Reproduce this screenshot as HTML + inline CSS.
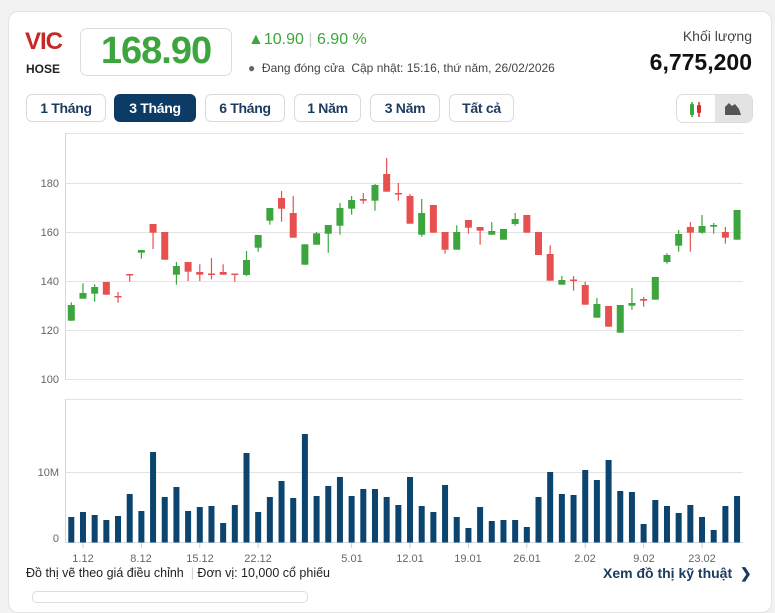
<!DOCTYPE html>
<html><head><meta charset="utf-8">
<style>
body{margin:0;width:775px;height:594px;background:#f2f2f2;font-family:"Liberation Sans",sans-serif;overflow:hidden;position:relative}
.card{position:absolute;left:8px;top:11px;width:762px;height:600px;background:#fff;border:1px solid #e2e2e2;border-radius:10px}
.a{position:absolute;white-space:nowrap}
.btn{position:absolute;top:94px;height:28px;border:1px solid #d6dbe0;border-radius:6px;box-sizing:border-box;font-size:14px;font-weight:bold;color:#1b3b5f;text-align:center;line-height:27px;letter-spacing:-0.3px}
</style></head><body>
<div class="card"></div>
<div class="a" style="left:25px;top:28px;font-size:24px;font-weight:bold;color:#c62828;letter-spacing:-1px">VIC</div>
<div class="a" style="left:26px;top:62px;font-size:12px;font-weight:bold;color:#222">HOSE</div>
<div class="a" style="left:80px;top:28px;width:152px;height:48px;border:1px solid #dcdcdc;border-radius:7px;box-sizing:border-box"></div>
<div class="a" style="left:80px;top:30px;width:152px;text-align:center;font-size:38px;font-weight:bold;color:#3da53d;letter-spacing:-1px">168.90</div>
<div class="a" style="left:248px;top:31px;font-size:16px;color:#3da53d;font-weight:bold">▲<span style="font-weight:normal">10.90</span> <span style="color:#ccc;font-weight:normal">|</span> <span style="font-weight:normal">6.90 %</span></div>
<div class="a" style="left:248px;top:61px;font-size:12px;color:#444"><span style="color:#666">●</span>&nbsp; Đang đóng cửa&nbsp; Cập nhật: 15:16, thứ năm, 26/02/2026</div>
<div class="a" style="right:23px;top:28px;font-size:14px;color:#444">Khối lượng</div>
<div class="a" style="right:23px;top:49px;font-size:23px;font-weight:bold;color:#111">6,775,200</div>
<div class="btn" style="left:26px;width:80px">1 Tháng</div>
<div class="btn" style="left:114px;width:82px;background:#0c3c66;color:#fff;border-color:#0c3c66">3 Tháng</div>
<div class="btn" style="left:205px;width:80px">6 Tháng</div>
<div class="btn" style="left:294px;width:67px">1 Năm</div>
<div class="btn" style="left:370px;width:70px">3 Năm</div>
<div class="btn" style="left:449px;width:65px">Tất cả</div>
<div class="a" style="left:676px;top:94px;width:77px;height:29px;border:1px solid #dcdcdc;border-radius:7px;box-sizing:border-box;overflow:hidden">
 <div class="a" style="left:38px;top:0;width:39px;height:29px;background:#e3e3e3"></div>
 <svg class="a" style="left:0;top:0" width="77" height="29">
  <rect x="13" y="9" width="4" height="11" fill="#3da53d" rx="1"/><line x1="15" y1="7" x2="15" y2="22" stroke="#3da53d" stroke-width="1.5"/>
  <rect x="20" y="10" width="4" height="8" fill="#d32f2f" rx="1"/><line x1="22" y1="7" x2="22" y2="22" stroke="#d32f2f" stroke-width="1.5"/>
  <path d="M48 20 L48 12 L52 8 L55 11 L58 9 L62 14 L64 20 Z" fill="#555"/>
 </svg>
</div>
<svg class="a" style="left:0;top:0" width="775" height="594" id="ch">
 <g stroke="#e3e3e3" stroke-width="1">
  <line x1="65.5" y1="133.5" x2="743" y2="133.5"/>
  <line x1="65.5" y1="183.5" x2="743" y2="183.5"/>
  <line x1="65.5" y1="232.5" x2="743" y2="232.5"/>
  <line x1="65.5" y1="281.5" x2="743" y2="281.5"/>
  <line x1="65.5" y1="330.5" x2="743" y2="330.5"/>
  <line x1="65.5" y1="379.5" x2="743" y2="379.5"/>
  <line x1="65.5" y1="399.5" x2="743" y2="399.5"/>
  <line x1="65.5" y1="472.5" x2="743" y2="472.5"/>
 </g>
 <g stroke="#d0d8e0"><line x1="65.5" y1="133" x2="65.5" y2="380"/><line x1="65.5" y1="399" x2="65.5" y2="543"/><line x1="65.5" y1="542.5" x2="743" y2="542.5"/></g>
 <g font-size="11" fill="#666" text-anchor="end" font-family="Liberation Sans">
  <text x="59" y="187">180</text><text x="59" y="236">160</text><text x="59" y="285">140</text><text x="59" y="334">120</text><text x="59" y="383">100</text>
  <text x="59" y="476">10M</text><text x="59" y="542">0</text>
 </g>
 <g font-size="11" fill="#666" text-anchor="middle" font-family="Liberation Sans">
  <text x="83" y="562">1.12</text><text x="141" y="562">8.12</text><text x="200" y="562">15.12</text><text x="258" y="562">22.12</text><text x="352" y="562">5.01</text><text x="410" y="562">12.01</text><text x="468" y="562">19.01</text><text x="527" y="562">26.01</text><text x="585" y="562">2.02</text><text x="644" y="562">9.02</text><text x="702" y="562">23.02</text>
 </g>
 <g id="cd"></g>
</svg>
<div class="a" style="left:26px;top:566px;font-size:12.5px;color:#222">Đồ thị vẽ theo giá điều chỉnh <span style="color:#ccc">&nbsp;|&nbsp;</span>Đơn vị: 10,000 cổ phiếu</div>
<div class="a" style="left:603px;top:565px;font-size:14px;font-weight:bold;color:#1b3b5f">Xem đồ thị kỹ thuật&nbsp; ❯</div>
<div class="a" style="left:32px;top:591px;width:274px;height:10px;border:1px solid #ddd;border-radius:5px"></div>
<script>
var C=[[305,320.7,302.3,320.7,'g'],[293,298.7,283.3,298.7,'g'],[287,293.7,284.3,301.7,'g'],[282,294.7,282,294.7,'r'],[296,297.5,292,302.7,'r'],[274,275,274,281.7,'r'],[250,252.7,250,258.7,'g'],[224,232.7,224,249,'r'],[232,259.7,232,259.7,'r'],[266,274.7,262,284.7,'g'],[262,271.7,262,281,'r'],[272,274.7,264.3,281,'r'],[273.5,275,258,279.3,'r'],[272,274.7,264.3,274.7,'r'],[273.5,275,273.5,281.7,'r'],[260,275,251,276,'g'],[235,247.7,235,251.7,'g'],[208,220.7,208,224.7,'g'],[198,208.7,191,221.7,'r'],[213,237.7,196,237.7,'r'],[244.3,264.7,244.3,264.7,'g'],[233.3,244.7,232,244.7,'g'],[225,233.7,225,252.7,'g'],[208,225.7,203,234.7,'g'],[200,208.7,196,214.7,'g'],[199,200.7,193,203.7,'r'],[185,200.7,184,210.7,'g'],[174,191.7,158,191.7,'r'],[193,194,183,200.7,'r'],[196,223.7,194,223.7,'r'],[213,234.7,199,236.7,'g'],[205,232.7,205,232.7,'r'],[232,249.7,232,253.7,'r'],[232,249.7,225.3,249.7,'g'],[220,227.7,220,233.7,'r'],[227,230.7,227,244.7,'r'],[231,234.7,222,234.7,'g'],[229,239.7,229,239.7,'g'],[219,224,213,225.7,'g'],[215,232.7,215,232.7,'r'],[232,255,232,255,'r'],[254,280.7,245.3,280.7,'r'],[280,284.7,276,284.7,'g'],[279.5,281,276,290.7,'r'],[285,304.7,281.7,304.7,'r'],[304,317.7,298,317.7,'g'],[306,326.7,306,326.7,'r'],[305,332.7,305,332.7,'g'],[303,305.7,288,309.7,'g'],[299,300.7,297,306.7,'r'],[277,299.7,277,299.7,'g'],[255,262,253.3,263.7,'g'],[234,245.7,230,251.7,'g'],[227,232.7,222,251.7,'r'],[226,232.7,215,233.7,'g'],[225,226.7,223,233.7,'g'],[232,237.7,227,243.7,'r'],[210,239.7,210,239.7,'g']];
var V=[517,512,515,520,516,494,511,452,497,487,511,507,506,523,505,453,512,497,481,498,434,496,486,477,496,489,489,497,505,477,506,512,485,517,528,507,521,520,520,527,497,472,494,495,470,480,460,491,492,524,500,506,513,505,517,530,506,496];
var s='';
for(var i=0;i<58;i++){var x=71.3+i*11.68,c=C[i],col=c[4]=='g'?'#3da53d':'#e8504f';
s+='<line x1="'+x+'" x2="'+x+'" y1="'+c[2]+'" y2="'+c[3]+'" stroke="'+col+'" stroke-width="1.2"/>';
var h=Math.max(c[1]-c[0],1.5);
s+='<rect x="'+(x-3.5)+'" y="'+c[0]+'" width="7" height="'+h+'" fill="'+col+'"/>';
s+='<rect x="'+(x-3)+'" y="'+V[i]+'" width="6" height="'+(542.5-V[i])+'" fill="#0c4470"/>';}
[2,7,12,17,25,30,35,40,45,50,55].forEach(function(k){var x=71.3+(k-1)*11.68;s+='<line x1="'+x+'" x2="'+x+'" y1="543" y2="548" stroke="#ccc"/>';});
document.getElementById('cd').innerHTML=s;
</script>
</body></html>
